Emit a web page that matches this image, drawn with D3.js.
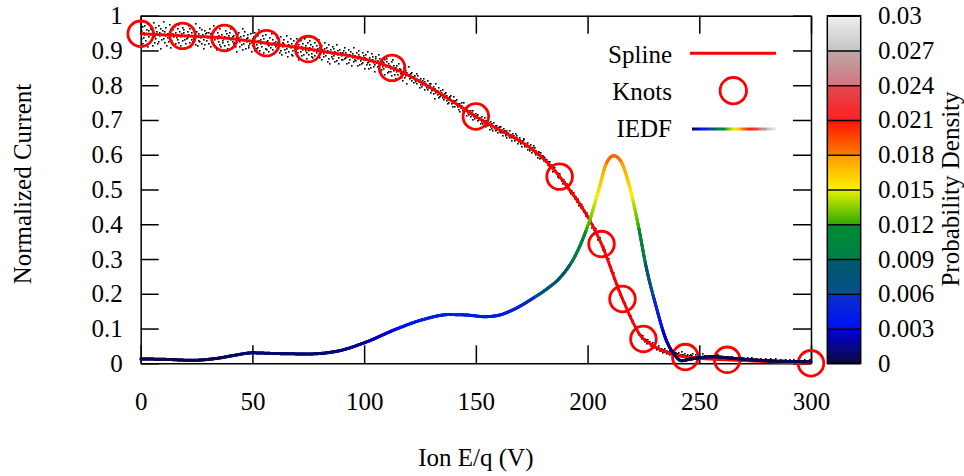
<!DOCTYPE html>
<html>
<head>
<meta charset="utf-8">
<script src="https://cdn.jsdelivr.net/npm/d3@7"></script>
<style>
  html, body { margin: 0; padding: 0; background: #fff; }
  svg { display: block; }
  text { font-family: "Liberation Serif", "Times New Roman", serif; fill: #000; }
</style>
</head>
<body>
<svg id="chart" width="964" height="476"></svg>
<script>
// ---- Data ------------------------------------------------------------------
// Axis ticks
const xTicks = [0, 50, 100, 150, 200, 250, 300];
const yTicks = [0, 0.1, 0.2, 0.3, 0.4, 0.5, 0.6, 0.7, 0.8, 0.9, 1.0];
const yTickLabels = ["0", "0.1", "0.2", "0.3", "0.4", "0.5", "0.6", "0.7", "0.8", "0.9", "1"];
const cbTicks = [0, 0.003, 0.006, 0.009, 0.012, 0.015, 0.018, 0.021, 0.024, 0.027, 0.03];
const cbTickLabels = ["0", "0.003", "0.006", "0.009", "0.012", "0.015", "0.018", "0.021", "0.024", "0.027", "0.03"];

// Spline knots (ion energy per charge in V, normalized current)
const knotsX = [0, 18.75, 37.5, 56.25, 75, 112.5, 150, 187.5, 206.25, 215.625, 225, 243.75, 262.5, 300];
const knotsY = [0.948, 0.942, 0.936, 0.921, 0.904, 0.850, 0.710, 0.537, 0.343, 0.185, 0.070, 0.018, 0.010, 0.000];

// IEDF: energy (V) and probability density (1/V)
const iedfX = [0, 10, 23, 35, 42, 50, 60, 75, 88, 100, 115, 127, 138, 146, 154, 160, 166, 175.5, 182, 187.5,
               195, 201, 205.4, 208.4, 211.7, 215, 218.8, 222.5, 226.2, 230.7, 235.2, 239, 242, 245.6, 250,
               256, 265, 280, 300];
const iedfDensity = [0.00039, 0.00036, 0.00027, 0.00047, 0.00072, 0.00094, 0.00088, 0.00084, 0.00109, 0.00184,
                     0.00313, 0.00397, 0.00438, 0.00434, 0.00419, 0.00431, 0.00475, 0.00584, 0.00672, 0.00766,
                     0.00988, 0.01288, 0.01588, 0.01797, 0.01866, 0.01813, 0.01588, 0.01259, 0.00869, 0.00509,
                     0.00209, 0.00075, 0.00023, 0.00036, 0.00050, 0.00059, 0.00045, 0.00023, 0.00014];
// IEDF is drawn on the current axis after multiplying by this factor
const iedfScale = 32;

// Raw current samples: residuals from the fitted spline, one row per 30 V span,
// evenly spaced inside the span; letter 'k' = 0, each letter step = residualUnit
const residualUnit = 0.004;
const scatterRows = [
  "kgmpdlhqjfnkbrimekognjcsleiphmdkqfljoagnkhtemjpcilfkrhnbgoldjqkmeihpfsknjdlgqombhkeinjrlfpckmhgoiljetnkdhmqgkjfplbioemkhn",
  "jnfkqdmhlgosiekpbjnlhfqkdmigtjlekpnchmfkojrdligmqhekbnjplfimkgsdhnkqejlomfgikpcjmhnldqkfiogtlemjkhpbndkgqlfjmieohkrjngdl",
  "kimfplhjnegqkdmjlohfkricnlgkjpemhdoklfiqnjgmbkhplejnkfrmihdokjglqnfhmejkpgdinlkhsmfjeolkgiqmhnjdlfpkcmjhgoinelkfqjmhdnklg",
  "jlgnkhpimekjofhlnkdmjqgilkhnejmplfkigohmjdlnkgqiejmhkfpnlgjdimokhlfqjnekgmilhdojkpnfmglkhjeoqimkgldnjhpkfmiljgekonhmjdlkq",
  "kilmjhnkgljmikhonjlfkmihljnkgmjlihokjmlgnikjhmlepjkilnghkmjliokhjmnligkjhlmnkijgolkhmjnilkhgmjlnkiohjlkmgjnlikhmjlgnkjim",
  "kjlmikjlhkmjilknjhlkmijlkgmjlikhnjklimjhklmjinlkhjmklijhmlkjnikljhmkljinkmlhjkmlijkhlmnjikljmhkljimkhljnkmjilkhjmlkijnkl",
  "kljkmjlkikljmkjlkhkljmkljkilkjmlkjlkikmljklkjmkljiklkjlmkjlkkjlmkikljkmlkjklijkmlkjkljmkilkjlkmjklkijlmkkjlkjmlkikjlkmjk",
  "kljkklmjkljkkljkmkjlklkjkklmkjlkkjklkmkjlkklkjkmlkkjlkkljkmkkljkkljmkklkjklkmjkklkljkkmlkjkklkjlkmkkljkklkjmkklkjlkkmkl",
  "klkmlkklnkllkmkklklmkklkkmlknkllkkmlklkkmklklnkklkmlkkllkmkklkmllkkklmklknkklkmlkklkmklklkkmlkkllmkklkklmklkkmlkkllkmkk",
  "kklkllkmklkklkmlkklkklmkklklkkmlkkllkklmkklkkllkmkklklkkmlkklkkllkmklkklkkmlkklkklmkkllkkmlklkklkkmlkkllkklkmklkklkkmlk"
];
const scatterRowSpan = 30;

// Colour palette of the probability-density bar, bottom and top colour of each 0.003 band
const paletteBands = [
  ["#0a0a40", "#0000e0"],
  ["#0010f8", "#0a30c8"],
  ["#06508a", "#005a6a"],
  ["#008048", "#008a30"],
  ["#30a800", "#e8f400"],
  ["#fff000", "#ff9800"],
  ["#ff7c00", "#ff1000"],
  ["#ff2020", "#e04a52"],
  ["#d47480", "#bca8a8"],
  ["#c4c4c4", "#f0f0f0"]
];
const cbMax = 0.03;

// ---- Layout ----------------------------------------------------------------
const svg = d3.select("#chart");
const FONT = 25;
const plot = { left: 140.7, right: 811, top: 15.7, bottom: 363.3 };
const cbBox = { left: 827.3, right: 860.7 };
const TICK = 18;

const x = d3.scaleLinear().domain([0, 300]).range([plot.left, plot.right]);
const y = d3.scaleLinear().domain([0, 1]).range([plot.bottom, plot.top]);
const cb = d3.scaleLinear().domain([0, cbMax]).range([plot.bottom, plot.top]);

function palette(d) {
  const step = cbMax / paletteBands.length;
  const t = Math.max(0, Math.min(cbMax - 1e-9, d));
  const i = Math.floor(t / step);
  const f = (t - i * step) / step;
  return d3.interpolateRgb(paletteBands[i][0], paletteBands[i][1])(f);
}

// Monotone cubic (Steffen) evaluation, same tangents as d3.curveMonotoneX
function monotoneSpline(xs, ys) {
  const n = xs.length;
  const m = new Array(n).fill(0);
  for (let i = 1; i < n - 1; i++) {
    const h0 = xs[i] - xs[i - 1], h1 = xs[i + 1] - xs[i];
    const s0 = (ys[i] - ys[i - 1]) / h0, s1 = (ys[i + 1] - ys[i]) / h1;
    const p = (s0 * h1 + s1 * h0) / (h0 + h1);
    const sg = v => (v < 0 ? -1 : 1);
    m[i] = (sg(s0) + sg(s1)) * Math.min(Math.abs(s0), Math.abs(s1), 0.5 * Math.abs(p)) || 0;
  }
  m[0] = (3 * (ys[1] - ys[0]) / (xs[1] - xs[0]) - m[1]) / 2;
  m[n - 1] = (3 * (ys[n - 1] - ys[n - 2]) / (xs[n - 1] - xs[n - 2]) - m[n - 2]) / 2;
  return function (xv) {
    let i = 0;
    while (i < n - 2 && xv > xs[i + 1]) i++;
    const h = xs[i + 1] - xs[i];
    const t = (xv - xs[i]) / h;
    const t2 = t * t, t3 = t2 * t;
    return (2 * t3 - 3 * t2 + 1) * ys[i] + (t3 - 2 * t2 + t) * h * m[i] +
           (-2 * t3 + 3 * t2) * ys[i + 1] + (t3 - t2) * h * m[i + 1];
  };
}
const splineAt = monotoneSpline(knotsX, knotsY);

// ---- Raw samples -------------------------------------------------------------
const samples = [];
scatterRows.forEach((row, r) => {
  const n = row.length;
  for (let j = 0; j < n; j++) {
    const xv = r * scatterRowSpan + (j + 0.5) * scatterRowSpan / n;
    const res = (row.charCodeAt(j) - 107) * residualUnit;
    samples.push([xv, splineAt(xv) + res]);
  }
});
svg.append("g")
  .selectAll("rect")
  .data(samples)
  .join("rect")
  .attr("x", d => Math.round(x(d[0])) - 1)
  .attr("y", d => Math.round(y(d[1])) - 1)
  .attr("width", 1.6)
  .attr("height", 1.6)
  .attr("fill", "#000");

// ---- Axes --------------------------------------------------------------------
function styleAxis(g) {
  g.selectAll(".domain").attr("stroke", "#000").attr("stroke-width", 1.5);
  g.selectAll(".tick line").attr("stroke", "#000").attr("stroke-width", 1.5);
  g.selectAll(".tick text").attr("font-size", FONT).attr("font-family", "Liberation Serif");
}
svg.append("g")
  .attr("transform", `translate(0,${plot.bottom})`)
  .call(d3.axisBottom(x).tickValues(xTicks).tickSize(-TICK).tickSizeOuter(0).tickPadding(29))
  .call(styleAxis);
svg.append("g")
  .attr("transform", `translate(0,${plot.top})`)
  .call(d3.axisTop(x).tickValues(xTicks).tickSize(-TICK).tickSizeOuter(0).tickFormat(""))
  .call(styleAxis);
svg.append("g")
  .attr("transform", `translate(${plot.left},0)`)
  .call(d3.axisLeft(y).tickValues(yTicks).tickSize(-TICK).tickSizeOuter(0).tickPadding(18)
    .tickFormat((d, i) => yTickLabels[i]))
  .call(styleAxis);
svg.append("g")
  .attr("transform", `translate(${plot.right},0)`)
  .call(d3.axisRight(y).tickValues(yTicks).tickSize(-TICK).tickSizeOuter(0).tickFormat(""))
  .call(styleAxis);
svg.selectAll("g.tick text").attr("fill", "#000");

// Axis titles
svg.append("text")
  .attr("x", (plot.left + plot.right) / 2)
  .attr("y", 457)
  .attr("text-anchor", "middle")
  .attr("dominant-baseline", "central")
  .attr("font-size", FONT)
  .text("Ion E/q (V)");
svg.append("text")
  .attr("transform", "translate(22,184) rotate(-90)")
  .attr("text-anchor", "middle")
  .attr("dominant-baseline", "central")
  .attr("font-size", FONT)
  .text("Normalized Current");

// ---- Spline and knots ----------------------------------------------------------
const knots = knotsX.map((v, i) => [v, knotsY[i]]);
svg.append("path")
  .datum(knots)
  .attr("fill", "none")
  .attr("stroke", "#ff0000")
  .attr("stroke-width", 3)
  .attr("d", d3.line().x(d => x(d[0])).y(d => y(d[1])).curve(d3.curveMonotoneX));

svg.append("g")
  .selectAll("circle")
  .data(knots)
  .join("circle")
  .attr("cx", d => x(d[0]))
  .attr("cy", d => y(d[1]))
  .attr("r", 12.8)
  .attr("fill", "none")
  .attr("stroke", "#ff0000")
  .attr("stroke-width", 2.8);

// ---- IEDF, coloured by probability density ---------------------------------------
const iedf = iedfX.map((v, i) => [v, iedfDensity[i]]);
const iedfPath = svg.append("path")
  .datum(iedf)
  .attr("fill", "none")
  .attr("stroke", "none")
  .attr("d", d3.line().x(d => x(d[0])).y(d => y(d[1] * iedfScale)).curve(d3.curveMonotoneX));
const pathNode = iedfPath.node();
const total = pathNode.getTotalLength();
const pts = [];
for (let l = 0; l <= total; l += 0.8) pts.push(pathNode.getPointAtLength(l));
pts.push(pathNode.getPointAtLength(total));
const iedfG = svg.append("g");
for (let i = 0; i < pts.length - 1; i++) {
  const a = pts[i], b = pts[i + 1];
  const dens = y.invert((a.y + b.y) / 2) / iedfScale;
  iedfG.append("line")
    .attr("x1", a.x).attr("y1", a.y)
    .attr("x2", b.x).attr("y2", b.y)
    .attr("stroke", palette(dens))
    .attr("stroke-width", 3)
    .attr("stroke-linecap", "round");
}

// ---- Legend --------------------------------------------------------------------
const legend = svg.append("g");
const legendItems = ["Spline", "Knots", "IEDF"];
const legendY = [54, 91, 128.5];
legend.selectAll("text")
  .data(legendItems)
  .join("text")
  .attr("x", 672)
  .attr("y", (d, i) => legendY[i])
  .attr("text-anchor", "end")
  .attr("dominant-baseline", "central")
  .attr("font-size", FONT)
  .text(d => d);
legend.append("line")
  .attr("x1", 690).attr("x2", 776)
  .attr("y1", legendY[0] - 0.7).attr("y2", legendY[0] - 0.7)
  .attr("stroke", "#ff0000").attr("stroke-width", 3);
legend.append("circle")
  .attr("cx", 733.3).attr("cy", legendY[1] - 0.3)
  .attr("r", 13.2)
  .attr("fill", "none").attr("stroke", "#ff0000").attr("stroke-width", 2.8);

const defs = svg.append("defs");
const lg = defs.append("linearGradient").attr("id", "iedfKey")
  .attr("x1", "0%").attr("x2", "100%").attr("y1", "0%").attr("y2", "0%");
d3.range(0, 61).forEach(k => {
  const d = cbMax * k / 60;
  lg.append("stop").attr("offset", `${(k / 60) * 100}%`).attr("stop-color", palette(d));
});
legend.append("rect")
  .attr("x", 692).attr("y", legendY[2] - 1.5 + 0.5)
  .attr("width", 84).attr("height", 3)
  .attr("fill", "url(#iedfKey)");

// ---- Colour bar --------------------------------------------------------------------
const cbG = svg.append("g");
paletteBands.forEach((band, i) => {
  const id = `band${i}`;
  const g = defs.append("linearGradient").attr("id", id)
    .attr("x1", "0%").attr("x2", "0%").attr("y1", "100%").attr("y2", "0%");
  g.append("stop").attr("offset", "0%").attr("stop-color", band[0]);
  g.append("stop").attr("offset", "100%").attr("stop-color", band[1]);
  const lo = cbTicks[i], hi = cbTicks[i + 1];
  cbG.append("rect")
    .attr("x", cbBox.left)
    .attr("y", cb(hi))
    .attr("width", cbBox.right - cbBox.left)
    .attr("height", cb(lo) - cb(hi))
    .attr("fill", `url(#${id})`);
});
svg.append("g")
  .attr("transform", `translate(${cbBox.right},0)`)
  .call(d3.axisRight(cb).tickValues(cbTicks).tickSize(-(cbBox.right - cbBox.left)).tickSizeOuter(0)
    .tickPadding(17.3).tickFormat((d, i) => cbTickLabels[i]))
  .call(styleAxis)
  .call(g => g.select(".domain").remove());
cbG.append("rect")
  .attr("x", cbBox.left).attr("y", plot.top)
  .attr("width", cbBox.right - cbBox.left).attr("height", plot.bottom - plot.top)
  .attr("fill", "none").attr("stroke", "#000").attr("stroke-width", 1.5);
svg.append("text")
  .attr("transform", "translate(950,189) rotate(-90)")
  .attr("text-anchor", "middle")
  .attr("dominant-baseline", "central")
  .attr("font-size", FONT)
  .text("Probability Density");
</script>
</body>
</html>
